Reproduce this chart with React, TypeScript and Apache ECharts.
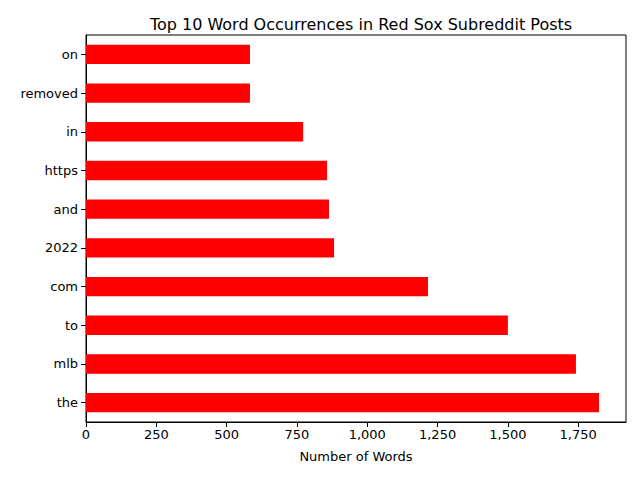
import { useEffect, useRef } from 'react'
import * as echarts from 'echarts'

const words = ['the', 'mlb', 'to', 'com', '2022', 'and', 'https', 'in', 'removed', 'on']
const counts = [1824, 1742, 1500, 1216, 882, 864, 857, 772, 583, 583]

export default function App() {
  const chartRef = useRef<HTMLDivElement | null>(null)

  useEffect(() => {
    if (!chartRef.current) {
      return
    }
    const chart = echarts.init(chartRef.current, undefined, { renderer: 'svg' })
    const font = 'DejaVu Sans'

    chart.setOption({
      animation: false,
      textStyle: { fontFamily: font },
      title: {
        text: 'Top 10 Word Occurrences in Red Sox Subreddit Posts',
        left: 356,
        textAlign: 'center',
        top: 11,
        textStyle: { fontFamily: font, fontSize: 16, fontWeight: 'normal', color: '#000' },
      },
      grid: {
        left: 86,
        right: 14,
        top: 35,
        bottom: 58,
        show: true,
        borderColor: '#000',
        borderWidth: 1,
      },
      xAxis: {
        type: 'value',
        min: 0,
        max: 1920,
        interval: 250,
        name: 'Number of Words',
        nameLocation: 'middle',
        nameGap: 28,
        nameTextStyle: { fontFamily: font, fontSize: 13, color: '#000' },
        axisLine: { show: true, lineStyle: { color: '#000' } },
        axisTick: { show: true, length: 5, lineStyle: { color: '#000' } },
        axisLabel: { showMaxLabel: false, fontFamily: font, fontSize: 13, color: '#000', margin: 6 },
        splitLine: { show: false },
      },
      yAxis: {
        type: 'category',
        data: words,
        axisLine: { show: true, lineStyle: { color: '#000' } },
        axisTick: { show: true, alignWithLabel: true, length: 5, lineStyle: { color: '#000' } },
        axisLabel: { fontFamily: font, fontSize: 13, color: '#000', margin: 8 },
      },
      series: [
        {
          type: 'bar',
          data: counts,
          barWidth: '50%',
          itemStyle: { color: '#ff0000' },
        },
      ],
    })

    return () => {
      chart.dispose()
    }
  }, [])

  return (
    <div
      ref={chartRef}
      style={{ position: 'fixed', left: 0, top: 0, width: 640, height: 480, background: '#fff' }}
    />
  )
}
